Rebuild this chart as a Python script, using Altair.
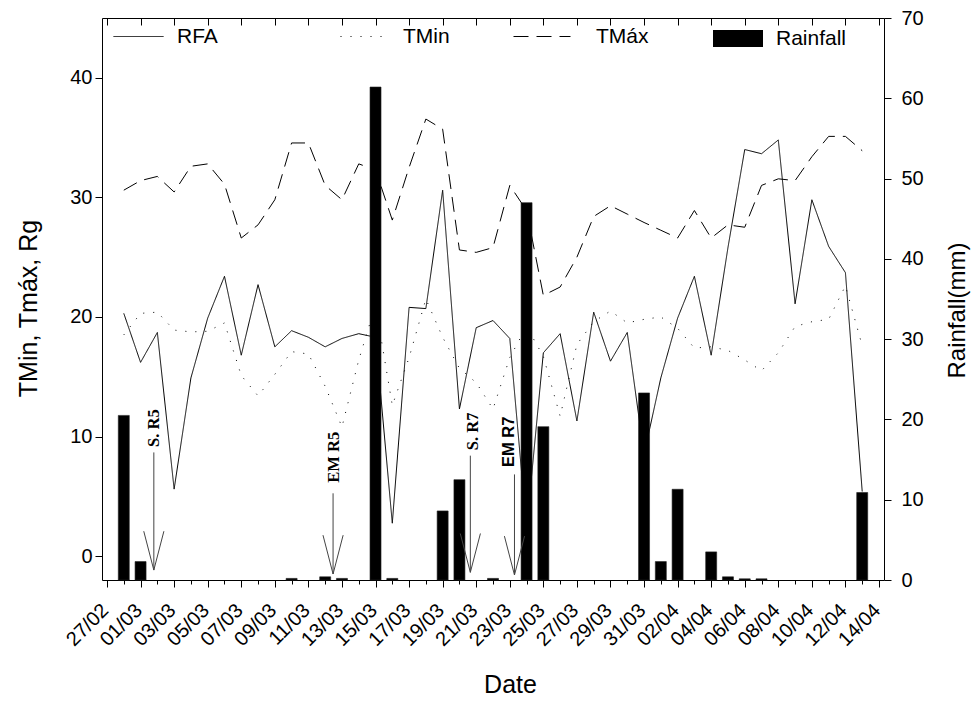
import altair as alt
import pandas as pd

# ---------------- data ----------------
dates = [
    "2015-02-28",
    "2015-03-01", "2015-03-02", "2015-03-03", "2015-03-04", "2015-03-05",
    "2015-03-06", "2015-03-07", "2015-03-08", "2015-03-09", "2015-03-10",
    "2015-03-11", "2015-03-12", "2015-03-13", "2015-03-14", "2015-03-15",
    "2015-03-16", "2015-03-17", "2015-03-18", "2015-03-19", "2015-03-20",
    "2015-03-21", "2015-03-22", "2015-03-23", "2015-03-24", "2015-03-25",
    "2015-03-26", "2015-03-27", "2015-03-28", "2015-03-29", "2015-03-30",
    "2015-03-31",
    "2015-04-01", "2015-04-02", "2015-04-03", "2015-04-04", "2015-04-05",
    "2015-04-06", "2015-04-07", "2015-04-08", "2015-04-09", "2015-04-10",
    "2015-04-11", "2015-04-12", "2015-04-13",
]

rfa = [20.3, 16.2, 18.7, 5.6, 14.9, 19.9, 23.4, 16.8, 22.7, 17.5,
       18.85, 18.3, 17.5, 18.2, 18.6, 18.3, 2.75, 20.8, 20.7, 30.6,
       12.3, 19.1, 19.7, 18.2, 2.3, 17.0, 18.6, 11.3, 20.4, 16.3,
       18.7, 8.5, 14.9, 19.9, 23.4, 16.8, 25.8, 34.0, 33.65, 34.8,
       21.1, 29.8, 25.9, 23.7, 5.4]

tmin = [18.5, 20.3, 20.4, 18.9, 18.75, 18.8, 19.5, 15.1, 13.4, 15.2,
        17.1, 16.9, 14.2, 10.8, 16.4, 21.0, 12.6, 16.6, 21.5, 18.3,
        15.7, 14.5, 12.3, 16.6, 19.2, 16.7, 11.7, 17.7, 19.6, 20.5,
        19.5, 19.8, 20.0, 19.05, 17.4, 17.5, 17.2, 16.4, 15.5, 17.0,
        19.2, 19.6, 19.8, 22.6, 17.6]

tmax = [30.6, 31.4, 31.75, 30.45, 32.6, 32.8, 31.1, 26.6, 27.7, 29.8,
        34.55, 34.55, 31.0, 29.8, 32.8, 32.3, 28.1, 32.5, 36.55, 35.7,
        25.6, 25.4, 25.8, 31.0, 28.9, 21.8, 22.5, 25.0, 28.4, 29.3,
        28.6, 27.9, 27.25, 26.6, 28.9, 26.6, 27.7, 27.5, 31.0, 31.55,
        31.4, 33.4, 35.1, 35.1, 33.9]

rain = [20.5, 2.3, 0, 0, 0, 0, 0, 0, 0, 0,
        0.2, 0, 0.4, 0.2, 0, 61.4, 0.2, 0, 0, 8.6,
        12.5, 0, 0.2, 0, 47.0, 19.1, 0, 0, 0, 0,
        0, 23.3, 2.3, 11.3, 0, 3.5, 0.4, 0.15, 0.15, 0,
        0, 0, 0, 0, 10.9]

series_names = ["RFA", "TMin", "TMáx"]
series_values = [rfa, tmin, tmax]
rain_name = "Rainfall"

axis_start = "2015-02-27"
axis_end = "2015-04-14"
left_domain = [-2, 45]
left_ticks = [0, 10, 20, 30, 40]
right_domain = [0, 70]
right_ticks = [0, 10, 20, 30, 40, 50, 60, 70]

# annotations (positions in data space: date, left-axis value)
ann_labels = ["S. R5", "EM R5", "S. R7", "EM R7"]
ann_serif = [True, True, True, False]
ann_text_x = ["2015-03-01T19:41:00Z", "2015-03-12T12:00:00Z",
              "2015-03-20T19:12:00Z", "2015-03-22T22:19:00Z"]
ann_text_y = [10.7, 8.27, 10.43, 9.56]
ann_arrow_x = ["2015-03-01T18:58:00Z", "2015-03-12T11:17:00Z",
               "2015-03-20T15:36:00Z", "2015-03-23T06:43:00Z"]
ann_shaft_top = [8.67, 5.25, 8.4, 6.83]
ann_tip = [-1.17, -1.5, -1.36, -1.58]

# ---------------- tables ----------------
rain_df = pd.DataFrame({"date": dates, "rain": rain, "kind": rain_name})

ann_df = pd.DataFrame({
    "label": ann_labels, "serif": ann_serif,
    "text_x": ann_text_x, "text_y": ann_text_y,
    "arrow_x": ann_arrow_x, "shaft_top": ann_shaft_top, "tip": ann_tip,
})

wing_dx = pd.Timedelta(hours=14.4)
wing_dy = 3.25
head_rows = []
for lab, ax, tp in zip(ann_labels, ann_arrow_x, ann_tip):
    t = pd.Timestamp(ax)
    for k, (tt, yy) in enumerate([(t - wing_dx, tp + wing_dy), (t, tp), (t + wing_dx, tp + wing_dy)]):
        head_rows.append({"label": lab, "x": tt.strftime("%Y-%m-%dT%H:%M:%SZ"), "y": yy, "ord": k})
head_df = pd.DataFrame(head_rows)


def to_ms(t):
    return int(t.timestamp() * 1000)


t0 = pd.Timestamp(axis_start, tz="UTC")
t1 = pd.Timestamp(axis_end, tz="UTC")
major_ticks = [to_ms(t) for t in pd.date_range(t0, t1, freq="2D")]
minor_ticks = [to_ms(t) for t in pd.date_range(t0, t1, freq="1D")]

xscale = alt.Scale(type="utc", domain=[to_ms(t0), to_ms(t1)], nice=False)
yleft = alt.Scale(domain=left_domain, nice=False, zero=False)
yright = alt.Scale(domain=right_domain, nice=False, zero=False)

FONT = "Liberation Sans"

x_main_axis = alt.Axis(
    orient="bottom", values=major_ticks,
    labelExpr="utcFormat(datum.value, '%d/%m')",
    labelAngle=-45, labelAlign="right", labelBaseline="middle",
    labelPadding=20, labelOffset=-2, labelFontSize=20,
    labelOverlap=False, labelBound=False, labelFlush=False,
    tickSize=7, domain=False, grid=False,
    title="Date", titleFontSize=25, titleFontWeight="normal",
    titleX=408, titleY=112, titleBaseline="alphabetic")

y_left_axis = alt.Axis(
    orient="left", values=left_ticks, tickSize=7, labelPadding=3,
    labelFontSize=20, domain=False, grid=False,
    title="TMin, Tmáx, Rg", titleFontSize=25, titleFontWeight="normal",
    titleAngle=270, titleX=-74, titleY=290,
    titleAlign="center", titleBaseline="middle")

# legend placement / symbol style per line series
legend_style = {
    "RFA":  dict(dash=[1, 0],  lx=11,  ly=-7,    size=2500, off=13),
    "TMin": dict(dash=[1, 9],  lx=238, ly=-7,    size=2500, off=12),
    "TMáx": dict(dash=[15, 8], lx=411, ly=-10.5, size=3249, off=25),
}

line_layers = []
for i, (name, vals) in enumerate(zip(series_names, series_values)):
    st = legend_style[name]
    df = pd.DataFrame({"date": dates, "value": vals, "series": name})
    layer = alt.Chart(df).mark_line(color="black", strokeWidth=1, strokeCap="butt").encode(
        x=alt.X("date:T", scale=xscale, axis=x_main_axis if i == 0 else None),
        y=alt.Y("value:Q", scale=yleft, axis=y_left_axis if i == 0 else None),
        strokeDash=alt.StrokeDash("series:N", scale=alt.Scale(domain=[name], range=[st["dash"]]),
                                  legend=alt.Legend(title=None, orient="none",
                                                    legendX=st["lx"], legendY=st["ly"],
                                                    direction="horizontal", symbolType="stroke",
                                                    symbolSize=st["size"], symbolStrokeWidth=1,
                                                    symbolStrokeColor="black", labelFontSize=21,
                                                    labelFont=FONT, labelColor="black",
                                                    labelOffset=st["off"], padding=0)),
    )
    line_layers.append(layer)

bars = alt.Chart(rain_df).transform_filter("datum.rain > 0").mark_bar(
    size=11, stroke="#222", strokeWidth=0.6).encode(
    x=alt.X("date:T", scale=xscale, axis=alt.Axis(
        orient="top", offset=-7, values=major_ticks, labels=False,
        domain=False, grid=False, tickSize=7, title=None)),
    y=alt.Y("rain:Q", scale=yright, axis=alt.Axis(
        orient="right", values=right_ticks, tickSize=7, labelPadding=10,
        labelFontSize=20, domain=False, grid=False,
        title="Rainfall(mm)", titleFontSize=24, titleFontWeight="normal",
        titleAngle=270, titleX=73, titleY=292,
        titleAlign="center", titleBaseline="middle")),
    color=alt.Color("kind:N", scale=alt.Scale(domain=[rain_name], range=["black"]),
                    legend=alt.Legend(title=None, orient="none", legendX=611, legendY=-4.5,
                                      symbolType="M-1,-0.34H1V0.34H-1Z", symbolSize=2500,
                                      symbolStrokeWidth=0, labelFontSize=21,
                                      labelFont=FONT, labelColor="black",
                                      labelOffset=13, padding=0)),
)

shafts = alt.Chart(ann_df).mark_rule(color="#444", strokeWidth=1).encode(
    x=alt.X("arrow_x:T", scale=xscale, axis=None),
    y=alt.Y("shaft_top:Q", scale=yleft, axis=None),
    y2="tip:Q",
)

heads = alt.Chart(head_df).mark_line(color="#444", strokeWidth=1).encode(
    x=alt.X("x:T", scale=xscale, axis=None),
    y=alt.Y("y:Q", scale=yleft, axis=None),
    detail="label:N",
    order="ord:Q",
)

text_serif = alt.Chart(ann_df).transform_filter("datum.serif").mark_text(
    angle=270, font="Liberation Serif", fontWeight="bold", fontSize=16.5,
    align="center", baseline="middle", color="black").encode(
    x=alt.X("text_x:T", scale=xscale, axis=alt.Axis(
        orient="bottom", values=minor_ticks, labels=False, domain=False,
        grid=False, tickSize=4, title=None)),
    y=alt.Y("text_y:Q", scale=yleft, axis=None),
    text="label:N",
)

text_sans = alt.Chart(ann_df).transform_filter("!datum.serif").mark_text(
    angle=270, font=FONT, fontWeight="bold", fontSize=16.5,
    align="center", baseline="middle", color="black").encode(
    x=alt.X("text_x:T", scale=xscale, axis=None),
    y=alt.Y("text_y:Q", scale=yleft, axis=None),
    text="label:N",
)

chart = alt.layer(*line_layers, bars, shafts, heads, text_serif, text_sans).resolve_scale(
    y="independent", strokeDash="independent"
).resolve_axis(
    x="independent", y="independent"
).resolve_legend(
    strokeDash="independent"
).properties(
    width=782, height=562,
    autosize=alt.AutoSizeParams(type="none"),
    padding={"left": 94, "top": 10, "right": 87, "bottom": 132},
).configure(
    font=FONT
).configure_view(
    stroke="black", strokeWidth=1
).configure_axis(
    tickColor="black", labelColor="black", titleColor="black",
    labelFont=FONT, titleFont=FONT, grid=False
)

chart.save("out.html", embed_options={"renderer": "svg", "actions": False})
